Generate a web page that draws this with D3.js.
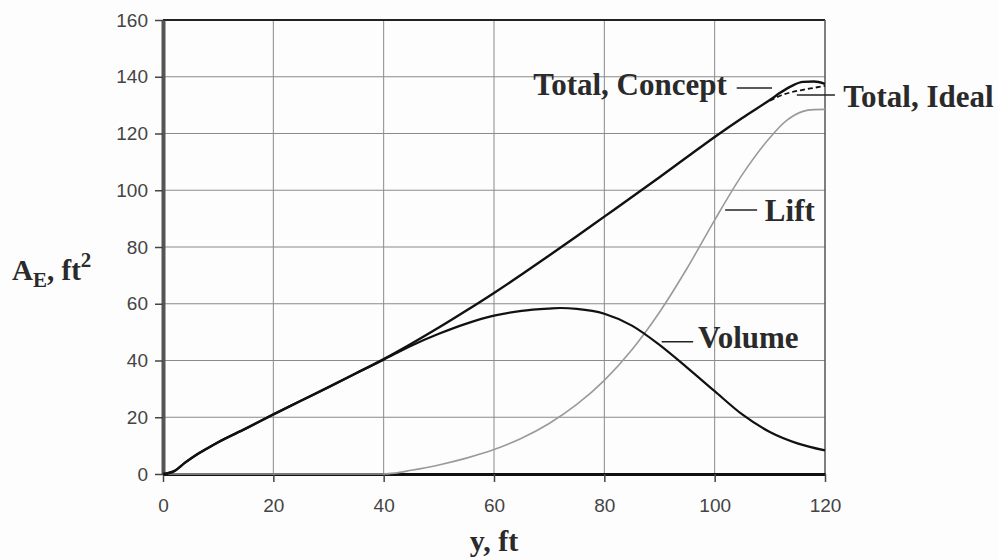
<!DOCTYPE html>
<html>
<head>
<meta charset="utf-8">
<script src="https://cdn.jsdelivr.net/npm/d3@7"></script>
<style>
  body { margin: 0; background: #fdfdfd; }
</style>
</head>
<body>
<script>

// data (y in ft, A_E in ft^2)
const xTicks = [0, 20, 40, 60, 80, 100, 120];
const yTicks = [0, 20, 40, 60, 80, 100, 120, 140, 160];

const totalX       = [0, 2, 4, 6, 8, 10, 15, 20, 25, 30, 35, 40, 45, 50, 55, 60, 65, 70, 75, 80, 85, 90, 95, 100, 105, 110, 112, 114, 116, 118, 120];
const totalConcept = [0, 1, 4, 6.7, 9, 11.2, 16, 21, 25.8, 30.6, 35.5, 40.5, 45.9, 51.6, 57.6, 63.8, 70.3, 77, 83.8, 90.7, 97.6, 104.6, 111.7, 118.8, 125.5, 131.8, 134.5, 136.8, 138.2, 138.3, 137.5];
const totalIdeal   = [0, 1, 4, 6.7, 9, 11.2, 16, 21, 25.8, 30.6, 35.5, 40.5, 45.9, 51.6, 57.6, 63.8, 70.3, 77, 83.8, 90.7, 97.6, 104.6, 111.7, 118.8, 125.5, 131.6, 133.4, 134.6, 135.4, 136.1, 136.8];

const volumeX = [0, 2, 4, 6, 8, 10, 15, 20, 25, 30, 35, 40, 45, 50, 55, 60, 65, 70, 72, 75, 80, 85, 90, 95, 100, 105, 110, 115, 120];
const volume  = [0, 1, 4, 6.7, 9, 11.2, 16, 21, 25.8, 30.6, 35.5, 40.3, 45.2, 49.4, 53, 55.8, 57.5, 58.3, 58.5, 58.2, 56.5, 52.3, 45.5, 37.5, 29.2, 21, 14.8, 10.8, 8.3];

const liftX = [0, 40, 42, 45, 50, 55, 60, 65, 70, 75, 80, 85, 90, 95, 100, 105, 110, 113, 116, 118, 120];
const lift  = [0, 0, 0.3, 1.3, 3.2, 5.6, 8.6, 12.6, 17.8, 24.5, 33, 43.8, 57, 72.5, 89.5, 105.5, 118.5, 124.5, 127.8, 128.4, 128.5];

let width = 998,
    height = 560;

let margin = { top: 20, bottom: 86, left: 163, right: 173 };

let svg = d3.select('body')
            .append('svg')
            .attr('width', width)
            .attr('height', height)
            .style('background', '#fdfdfd');

let xScale = d3.scaleLinear()
               .domain([0, 120])
               .range([margin.left, width - margin.right]);

let yScale = d3.scaleLinear()
               .domain([0, 160])
               .range([height - margin.bottom, margin.top]);

// gridlines
svg.append('g')
   .selectAll('line')
   .data(xTicks.slice(1, -1))
   .join('line')
   .attr('x1', d => xScale(d)).attr('x2', d => xScale(d))
   .attr('y1', yScale(0)).attr('y2', yScale(160))
   .attr('stroke', '#8a8a8a').attr('stroke-width', 1);

svg.append('g')
   .selectAll('line')
   .data(yTicks.slice(1, -1))
   .join('line')
   .attr('x1', xScale(0)).attr('x2', xScale(120))
   .attr('y1', d => yScale(d)).attr('y2', d => yScale(d))
   .attr('stroke', '#8a8a8a').attr('stroke-width', 1);

// frame: top and right
svg.append('line')
   .attr('x1', xScale(0)).attr('x2', xScale(120))
   .attr('y1', yScale(160)).attr('y2', yScale(160))
   .attr('stroke', '#222').attr('stroke-width', 2);
svg.append('line')
   .attr('x1', xScale(120)).attr('x2', xScale(120))
   .attr('y1', yScale(160)).attr('y2', yScale(0))
   .attr('stroke', '#555').attr('stroke-width', 1.5);

// axes
let xAxis = svg.append('g')
               .attr('transform', `translate(0, ${yScale(0)})`)
               .call(d3.axisBottom(xScale).tickValues(xTicks).tickSize(8).tickPadding(17).tickSizeOuter(0));

let yAxis = svg.append('g')
               .attr('transform', `translate(${xScale(0)}, 0)`)
               .call(d3.axisLeft(yScale).tickValues(yTicks).tickSize(8).tickPadding(7).tickSizeOuter(0));

[xAxis, yAxis].forEach(a => {
  a.selectAll('text')
   .style('font-family', '"Liberation Sans", Arial, sans-serif')
   .style('font-size', '19px')
   .attr('fill', '#444');
  a.selectAll('.tick line').attr('stroke', '#444').attr('stroke-width', 1.5);
});
xAxis.select('.domain').attr('stroke', '#111').attr('stroke-width', 3);
yAxis.select('.domain').attr('stroke', '#555').attr('stroke-width', 4);

// lines
let line = d3.line()
             .x(d => xScale(d[0]))
             .y(d => yScale(d[1]))
             .curve(d3.curveMonotoneX);

let curves = svg.append('g');

curves.append('path')
    .attr('d', line(d3.zip(liftX, lift)))
    .attr('fill', 'none')
    .attr('stroke', '#9a9a9a')
    .attr('stroke-width', 1.6);

curves.append('path')
    .attr('d', line(d3.zip(volumeX, volume)))
    .attr('fill', 'none')
    .attr('stroke', '#111')
    .attr('stroke-width', 2.2);

curves.append('path')
    .attr('d', line(d3.zip(totalX, totalConcept)))
    .attr('fill', 'none')
    .attr('stroke', '#111')
    .attr('stroke-width', 2.4);

curves.append('path')
    .attr('d', line(d3.zip(totalX, totalIdeal).filter(d => d[0] >= 108)))
    .attr('fill', 'none')
    .attr('stroke', '#111')
    .attr('stroke-width', 1.8)
    .attr('stroke-dasharray', '5,3');

// curve labels with leaders (placed in data units)
const labels = [
  { text: 'Total, Concept', x: 102.2, y: 133.6, anchor: 'end',   lx1: 104,   lx2: 110.4, ly: 136 },
  { text: 'Total, Ideal',   x: 123.3, y: 129.3, anchor: 'start', lx1: 114.9, lx2: 121.8, ly: 133.6 },
  { text: 'Lift',           x: 109.1, y: 89.3,  anchor: 'start', lx1: 101.9, lx2: 107.7, ly: 93 },
  { text: 'Volume',         x: 97,    y: 44.4,  anchor: 'start', lx1: 90.4,  lx2: 96.1,  ly: 46.6 }
];

labels.forEach(d => {
  svg.append('line')
     .attr('x1', xScale(d.lx1)).attr('x2', xScale(d.lx2))
     .attr('y1', yScale(d.ly)).attr('y2', yScale(d.ly))
     .attr('stroke', '#222').attr('stroke-width', 1.5);
  svg.append('text')
     .attr('x', xScale(d.x))
     .attr('y', yScale(d.y))
     .attr('text-anchor', d.anchor)
     .text(d.text)
     .style('font-family', '"Liberation Serif", "Times New Roman", serif')
     .style('font-weight', 'bold')
     .style('font-size', '31px')
     .attr('fill', '#2a2a2a');
});

// axis titles
svg.append('text')
   .attr('x', xScale(60))
   .attr('y', 551)
   .attr('text-anchor', 'middle')
   .text('y, ft')
   .style('font-family', '"Liberation Serif", "Times New Roman", serif')
   .style('font-weight', 'bold')
   .style('font-size', '30px')
   .attr('fill', '#2a2a2a');

let yt = svg.append('text')
   .attr('x', 12)
   .attr('y', 280)
   .style('font-family', '"Liberation Serif", "Times New Roman", serif')
   .style('font-weight', 'bold')
   .style('font-size', '29px')
   .attr('fill', '#2a2a2a');
yt.append('tspan').text('A');
yt.append('tspan').attr('dy', 7).style('font-size', '21px').text('E');
yt.append('tspan').attr('dy', -7).text(', ft');
yt.append('tspan').attr('dy', -13).style('font-size', '21px').text('2');

</script>
</body>
</html>
